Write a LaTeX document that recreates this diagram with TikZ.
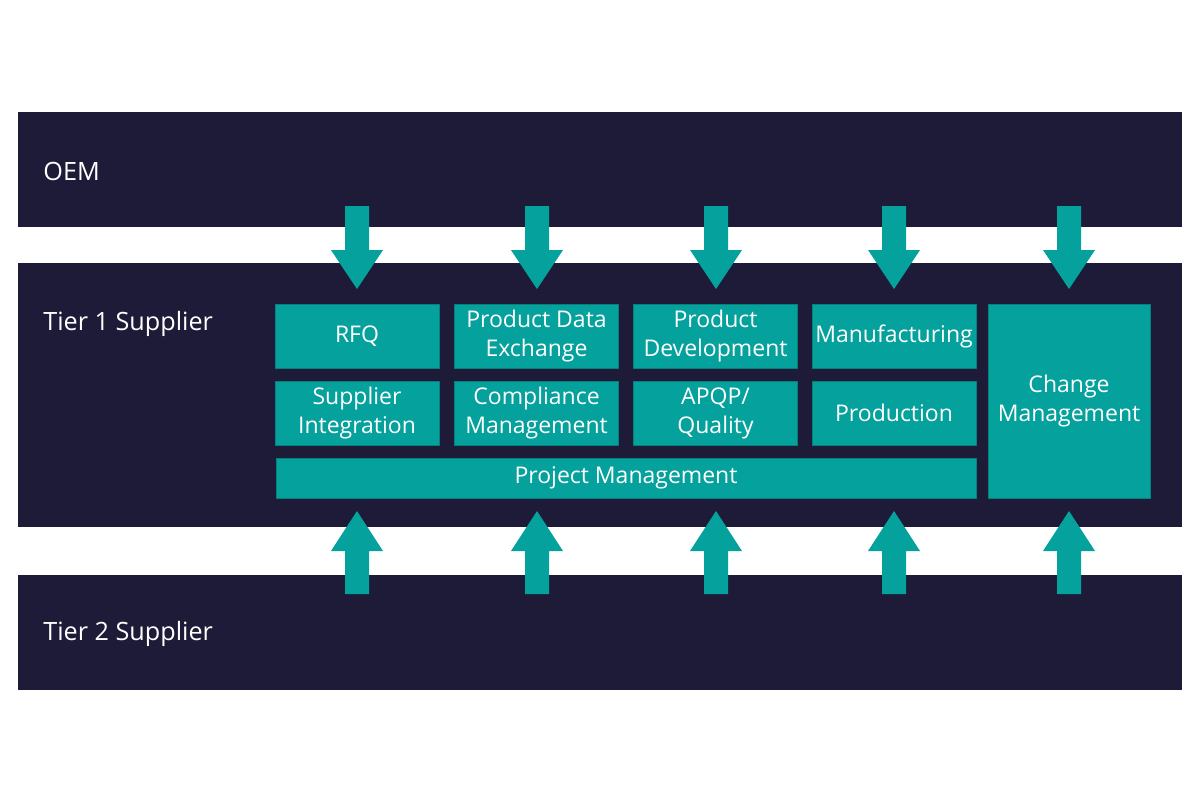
\documentclass[tikz,border=0pt]{standalone}
\usepackage{fontspec}
\setmainfont{Open Sans}
\definecolor{navy}{HTML}{1E1B38}
\definecolor{tealc}{HTML}{05A19C}
\tikzset{
	band/.style={fill=navy},
	bandlabel/.style={anchor=base west,text=white,inner sep=0pt,font=\fontsize{12.6}{14}\selectfont},
	box/.style={fill=tealc,draw=tealc!80!black,line width=0.3pt,text=white,align=center,
		font=\fontsize{11.5}{14.5}\selectfont,inner sep=0pt,
		minimum width=82pt,minimum height=32pt},
	blockarrow/.style={fill=tealc,draw=none}
}
\begin{document}
\begin{tikzpicture}[line cap=round,line join=round,x=0.5pt,y=-0.5pt]
			\useasboundingbox (0,0) rectangle (1200,800);
			% bands
			\fill [band] (18,112) rectangle (1182,227);
			\fill [band] (18,263) rectangle (1182,527);
			\fill [band] (18,575) rectangle (1182,690);
			\node [bandlabel] (oem) at (43,180) {OEM};
			\node [bandlabel] (tier1) at (43,330) {Tier 1 Supplier};
			\node [bandlabel] (tier2) at (43,640) {Tier 2 Supplier};
			% arrows down from OEM, up from tier 2
			\foreach \cx in {357,537,716,894,1069} {
				\fill [blockarrow] (\cx-12,206) -- (\cx+12,206) -- (\cx+12,250) -- (\cx+26,250)
					-- (\cx,289) -- (\cx-26,250) -- (\cx-12,250) -- cycle;
				\fill [blockarrow] (\cx-12,594) -- (\cx+12,594) -- (\cx+12,551) -- (\cx+26,551)
					-- (\cx,511) -- (\cx-26,551) -- (\cx-12,551) -- cycle;
			}
			% tier 1 blocks
			\node [box] (rfq) at (357,336) {RFQ};
			\node [box] (pde) at (536.5,336) {Product Data\\Exchange};
			\node [box] (pdev) at (715.5,336) {Product\\Development};
			\node [box] (manuf) at (894,336) {Manufacturing};
			\node [box] (suppint) at (357,413) {Supplier\\Integration};
			\node [box] (compl) at (536.5,413) {Compliance\\Management};
			\node [box] (apqp) at (715.5,413) {APQP/\\Quality};
			\node [box] (prod) at (894,413) {Production};
			\node [box,minimum width=350pt,minimum height=20pt] (projm) at (626,478) {Project Management};
			\node [box,minimum width=81pt,minimum height=97pt] (changem) at (1069,401) {Change\\Management};
		\end{tikzpicture}
\end{document}
